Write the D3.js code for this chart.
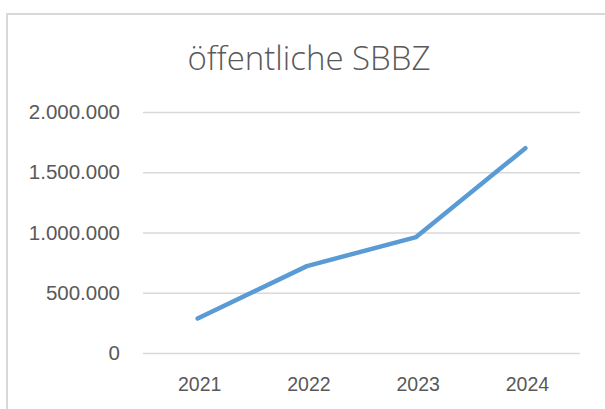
<!DOCTYPE html>
<html>
<head>
<meta charset="utf-8">
<script src="https://cdn.jsdelivr.net/npm/d3@7"></script>
<style>
  body { margin: 0; background: #fff; }
  svg { display: block; font-family: "Open Sans", "Noto Sans", sans-serif; }
</style>
</head>
<body>
<div id="chart"></div>
<script>
// Daten
const years = ["2021", "2022", "2023", "2024"];
const values = [287000, 721000, 962000, 1700000];
const yTicks = [0, 500000, 1000000, 1500000, 2000000];
const chartTitle = "öffentliche SBBZ";

const width = 605;
const height = 409;

// Plotbereich
const plotLeft = 143, plotRight = 580, plotTop = 112, plotBottom = 353;

const svg = d3.select("#chart").append("svg")
    .attr("width", width)
    .attr("height", height);

// Rahmen des Diagramms (geht über den Bildrand hinaus)
svg.append("rect")
    .attr("x", 7)
    .attr("y", 14)
    .attr("width", 700)
    .attr("height", 500)
    .attr("fill", "none")
    .attr("stroke", "#d9d9d9")
    .attr("stroke-width", 2);

// Skalen
const x = d3.scaleBand()
    .domain(years)
    .range([plotLeft, plotRight]);

const y = d3.scaleLinear()
    .domain([0, 2000000])
    .range([plotBottom, plotTop]);

const fmt = d => d3.format(",")(d).replace(/,/g, ".");

// Gitterlinien + y-Beschriftung
const yAxis = svg.append("g")
    .attr("transform", `translate(${plotLeft},0)`)
    .call(d3.axisLeft(y).tickValues(yTicks).tickSize(-(plotRight - plotLeft)).tickPadding(23).tickFormat(fmt));
yAxis.select(".domain").remove();
yAxis.selectAll(".tick line").attr("stroke", "#d9d9d9").attr("stroke-width", 1.5);
yAxis.selectAll(".tick text")
    .attr("fill", "#595959")
    .style("font-size", "20.5px");

// x-Beschriftung
const xAxis = svg.append("g")
    .attr("transform", `translate(0,${plotBottom})`)
    .call(d3.axisBottom(x).tickSize(0).tickPadding(24));
xAxis.select(".domain").remove();
xAxis.selectAll(".tick text")
    .attr("fill", "#595959")
    .attr("dx", 2)
    .style("font-size", "19.5px");

// Linie
const line = d3.line()
    .x((d, i) => x(years[i]) + x.bandwidth() / 2)
    .y(d => y(d));

svg.append("path")
    .datum(values)
    .attr("d", line)
    .attr("fill", "none")
    .attr("stroke", "#5b9bd5")
    .attr("stroke-width", 4.5)
    .attr("stroke-linecap", "round")
    .attr("stroke-linejoin", "round");

// Titel
svg.append("text")
    .attr("x", 309)
    .attr("y", 70)
    .attr("text-anchor", "middle")
    .attr("fill", "#595959")
    .style("font-size", "33px")
    .style("font-weight", 300)
    .text(chartTitle);
</script>
</body>
</html>
